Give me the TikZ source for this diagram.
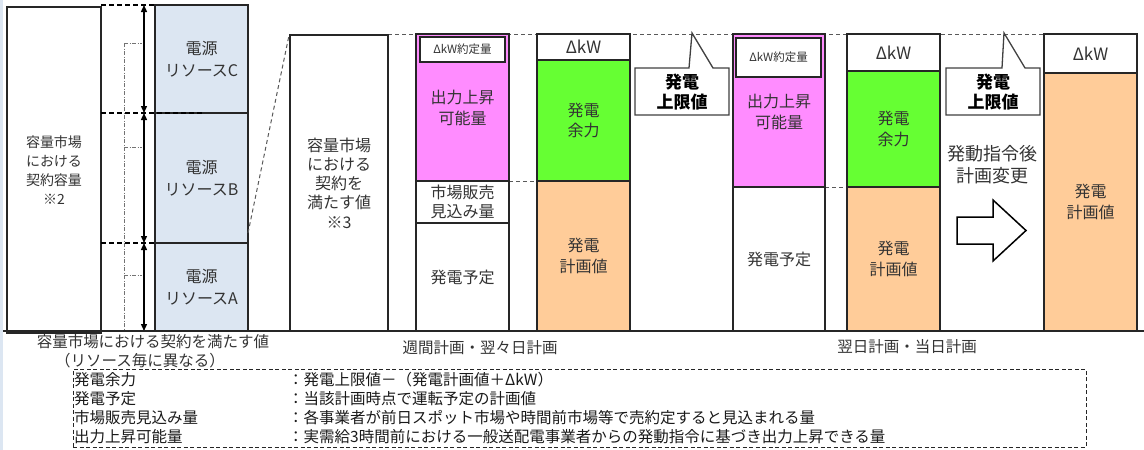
\documentclass[tikz,border=0pt]{standalone}
\usepackage{fontspec}
\setmainfont{Noto Sans CJK JP}
\usetikzlibrary{arrows.meta}
\definecolor{resblue}{HTML}{DCE6F2}
\definecolor{pinkc}{HTML}{FF8CFF}
\definecolor{greenc}{HTML}{66FF33}
\definecolor{orangec}{HTML}{FFCC99}
\definecolor{txt}{HTML}{333333}
\tikzset{
  seg/.style={draw=black!85, line width=1.5pt, rectangle, inner sep=0pt, align=center, text=txt,
    font=\fontsize{16}{20.5}\selectfont},
  lbl/.style={inner sep=0pt, align=center, text=txt, font=\fontsize{16}{20.5}\selectfont},
  smallbox/.style={draw=black!85, line width=1.5pt, fill=white, rectangle, inner sep=0pt, text=txt,
    font=\fontsize{11.5}{13}\selectfont},
  dkw/.style={font=\fontsize{17}{20}\selectfont},
  gdash/.style={draw=black!65, line width=1pt, dash pattern=on 4pt off 3pt},
  kdash/.style={draw=black, line width=1.3pt, dash pattern=on 5pt off 3pt},
  dotdash/.style={draw=black!55, line width=0.6pt, dash pattern=on 4pt off 1.5pt on 1pt off 1.5pt},
  dim/.style={draw=black, line width=1.4pt, {Triangle[length=7pt,width=6pt]}-{Triangle[length=7pt,width=6pt]}},
  callout/.style={draw=black!75, line width=1.3pt, fill=white},
  callouttext/.style={inner sep=0pt, align=center, font=\fontsize{17}{20}\selectfont\bfseries},
  captext/.style={inner sep=0pt, align=center, text=txt, font=\fontsize{15.5}{19}\selectfont},
  legtext/.style={inner sep=0pt, anchor=west, text=black!90, font=\fontsize{15.5}{18}\selectfont},
}
\begin{document}
\begin{tikzpicture}[x=1pt,y=-1pt]
\useasboundingbox (0,0) rectangle (1144,450);
\fill[resblue] (0,0) rectangle (3,450);

% guide dashed lines (behind)
\coordinate (t0) at (388,34);
\coordinate (t1) at (1044,34);
\draw[gdash] (t0) -- (t1);
\coordinate (m1a) at (509,181); \coordinate (m1b) at (537,181);
\draw[gdash] (m1a) -- (m1b);
\coordinate (m3a) at (825,187); \coordinate (m3b) at (847,187);
\draw[gdash] (m3a) -- (m3b);

% left part
\node[seg, font=\fontsize{14}{19}\selectfont, minimum width=94pt, minimum height=326pt] (L) at (54,170) {容量市場\\における\\契約容量\\※2};
\node[seg, fill=resblue, font=\fontsize{16}{22}\selectfont, minimum width=93pt, minimum height=108pt] (C) at (201.5,59) {電源\\リソースC};
\node[seg, fill=resblue, font=\fontsize{16}{22}\selectfont, minimum width=93pt, minimum height=130pt] (B) at (201.5,178) {電源\\リソースB};
\node[seg, fill=resblue, font=\fontsize{16}{22}\selectfont, minimum width=93pt, minimum height=88pt] (A) at (201.5,287) {電源\\リソースA};

\coordinate (k1a) at (101,5);   \coordinate (k1b) at (155,5);
\coordinate (k2a) at (101,113); \coordinate (k2b) at (203,113);
\coordinate (k3a) at (101,243); \coordinate (k3b) at (155,243);
\draw[kdash] (k1a) -- (k1b);
\draw[kdash] (k2a) -- (k2b);
\draw[kdash] (k3a) -- (k3b);

\coordinate (d0) at (144,5); \coordinate (d1) at (144,113);
\coordinate (d2) at (144,243); \coordinate (d3) at (144,331);
\draw[dim] (d0) -- (d1);
\draw[dim] (d1) -- (d2);
\draw[dim] (d2) -- (d3);

\coordinate (v0) at (124,43); \coordinate (v1) at (124,331);
\draw[dotdash] (v0) -- (v1);
\coordinate (h1) at (142,43); \coordinate (h2a) at (124,147); \coordinate (h2) at (142,147);
\coordinate (h3a) at (124,275); \coordinate (h3) at (142,275);
\draw[dotdash] (v0) -- (h1);
\draw[dotdash] (h2a) -- (h2);
\draw[dotdash] (h3a) -- (h3);

\node[seg, font=\fontsize{16}{19.3}\selectfont, minimum width=98pt, minimum height=296pt] (S3) at (339,183) {容量市場\\における\\契約を\\満たす値\\※3};
\coordinate (z0) at (248,233);
\draw[gdash] (z0) -- (S3.north west);

% column 1 (weekly)
\node[seg, fill=pinkc, minimum width=93pt, minimum height=147pt] (P1) at (462.5,107.5) {};
\node[smallbox, minimum width=85pt, minimum height=25pt] (K1) at (462.5,49.5) {ΔkW約定量};
\node[lbl] (P1t) at (462.5,108) {出力上昇\\可能量};
\node[seg, fill=white, font=\fontsize{16}{19}\selectfont, minimum width=93pt, minimum height=42pt] (M1) at (462.5,202) {市場販売\\見込み量};
\node[seg, fill=white, minimum width=93pt, minimum height=108pt] (Y1) at (462.5,277) {発電予定};

% column 2
\node[seg, fill=white, dkw, minimum width=93pt, minimum height=26pt] (D2) at (583.5,47) {ΔkW};
\node[seg, fill=greenc, minimum width=93pt, minimum height=121pt] (G2) at (583.5,120.5) {発電\\余力};
\node[seg, fill=orangec, minimum width=93pt, minimum height=150pt] (O2) at (583.5,256) {発電\\計画値};

% callout 1
\draw[callout] (635,68) -- (689,68) -- (692,33) -- (713,68) -- (729,68) -- (729,115) -- (635,115) -- cycle;
\node[callouttext] (CL1) at (682,92) {発電\\上限値};

% column 3
\node[seg, fill=pinkc, minimum width=92pt, minimum height=153pt] (P3) at (779,110.5) {};
\node[smallbox, minimum width=85pt, minimum height=39pt] (K3) at (778.5,57.5) {ΔkW約定量};
\node[lbl] (P3t) at (779,112) {出力上昇\\可能量};
\node[seg, fill=white, minimum width=92pt, minimum height=144pt] (Y3) at (779,259) {発電予定};

% column 4
\node[seg, fill=white, dkw, minimum width=93pt, minimum height=37pt] (D4) at (893.5,52.5) {ΔkW};
\node[seg, fill=greenc, minimum width=93pt, minimum height=116pt] (G4) at (893.5,129) {発電\\余力};
\node[seg, fill=orangec, minimum width=93pt, minimum height=144pt] (O4) at (893.5,259) {発電\\計画値};

% callout 2
\draw[callout] (946,68) -- (1002,68) -- (1004,33) -- (1025,68) -- (1040,68) -- (1040,115) -- (946,115) -- cycle;
\node[callouttext] (CL2) at (993,92) {発電\\上限値};

\node[lbl, font=\fontsize{18}{22}\selectfont] (CHG) at (992,165) {発動指令後\\計画変更};
\draw[draw=black, line width=1.5pt, fill=white] (957,217) -- (993,217) -- (993,200) -- (1026,230.5) -- (993,261) -- (993,244) -- (957,244) -- cycle;

% column 5
\node[seg, fill=white, dkw, minimum width=93pt, minimum height=39pt] (D5) at (1090.5,53.5) {ΔkW};
\node[seg, fill=orangec, minimum width=93pt, minimum height=258pt] (O5) at (1090.5,202) {発電\\計画値};

% baseline
\coordinate (bl0) at (3,331); \coordinate (bl1) at (1144,331);
\draw[draw=black!85, line width=1.8pt] (bl0) -- (bl1);

% bottom labels
\node[captext] (cap1) at (153,342) {容量市場における契約を満たす値};
\node[captext] (cap2) at (140,361) {（リソース毎に異なる）};
\node[captext] (cap3) at (480,348) {週間計画・翌々日計画};
\node[captext] (cap4) at (907,347) {翌日計画・当日計画};

% legend
\node[draw=black!85, line width=1pt, dash pattern=on 4pt off 2.5pt, minimum width=1013pt, minimum height=78pt, inner sep=0pt] (LEG) at (579.5,408) {};
\node[legtext] (l1) at (74,380) {発電余力};
\node[legtext] (l2) at (74,399) {発電予定};
\node[legtext] (l3) at (74,418) {市場販売見込み量};
\node[legtext] (l4) at (74,437) {出力上昇可能量};
\node[legtext] (r1) at (288,380) {：発電上限値－（発電計画値＋ΔkW）};
\node[legtext] (r2) at (288,399) {：当該計画時点で運転予定の計画値};
\node[legtext] (r3) at (288,418) {：各事業者が前日スポット市場や時間前市場等で売約定すると見込まれる量};
\node[legtext] (r4) at (288,437) {：実需給3時間前における一般送配電事業者からの発動指令に基づき出力上昇できる量};
\end{tikzpicture}
\end{document}
